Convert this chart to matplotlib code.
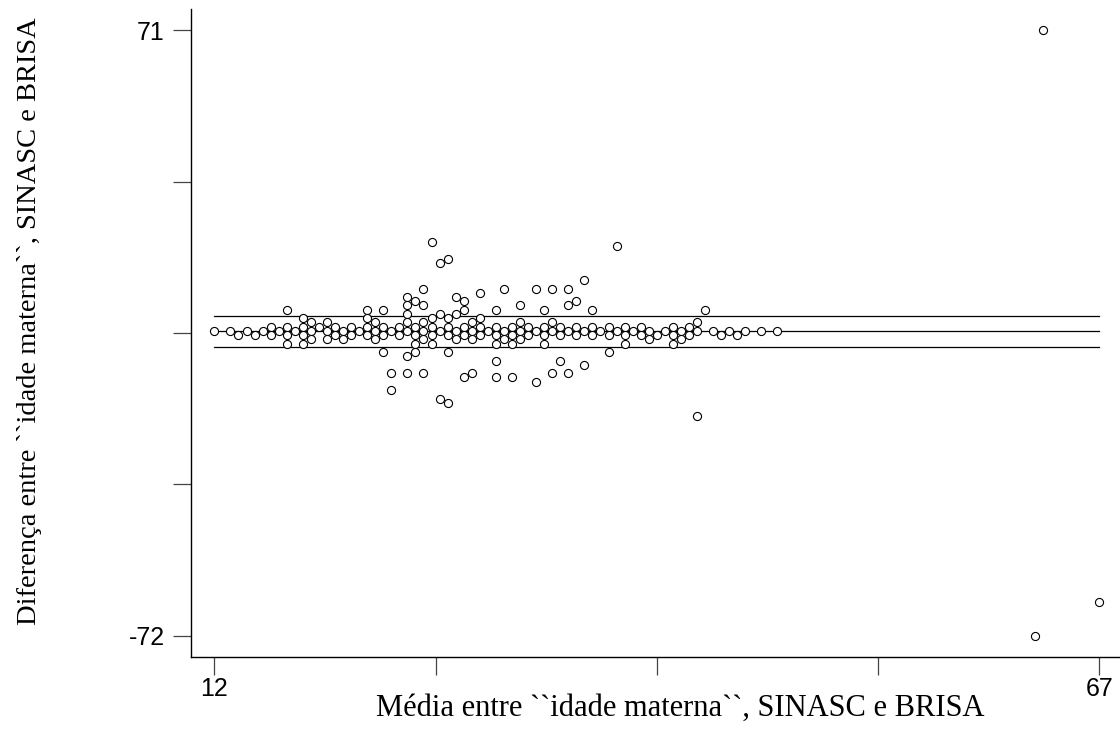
import matplotlib
matplotlib.use("Agg")
import matplotlib.pyplot as plt
import numpy as np

# Bland-Altman: idade materna, SINASC vs BRISA
media = [
    12, 13, 13.5, 14, 14.5, 15, 15.5, 15.5, 16,
    16.5, 16.5, 16.5, 16.5, 17, 17.5, 17.5, 17.5, 17.5,
    18, 18, 18, 18.5, 19, 19, 19, 19.5, 19.5, 20, 20, 20.5, 20.5, 21,
    21.5, 21.5, 21.5, 21.5, 22, 22, 22, 22.5, 22.5, 22.5, 22.5,
    23, 23, 23, 23.5, 23.5,
    24, 24, 24, 24, 24, 24, 24,
    24.5, 24.5, 24.5, 24.5, 24.5,
    25, 25, 25, 25, 25, 25,
    25.5, 25.5, 25.5, 25.5, 25.5,
    26, 26, 26, 26,
    26.5, 26.5, 26.5, 26.5, 26.5, 26.5,
    27, 27, 27, 27,
    27.5, 27.5, 27.5, 27.5, 27.5,
    28, 28, 28, 28,
    28.5, 28.5, 28.5, 28.5, 29,
    29.5, 29.5, 29.5, 29.5, 29.5, 29.5,
    30, 30, 30, 30.5, 30.5, 30.5, 30.5,
    31, 31, 31, 31, 31.5, 31.5,
    32, 32, 32, 32.5, 32.5, 32.5, 32.5,
    33, 33, 33, 33, 33.5, 33.5, 33.5,
    34, 34, 34, 34, 34.5, 34.5, 34.5,
    35, 35, 35, 35.5, 35.5, 35.5, 36,
    36.5, 36.5, 36.5, 37, 37, 37.5, 37.5, 37.5,
    38, 38.5, 38.5, 39, 39, 39.5, 40,
    40.5, 40.5, 40.5, 41, 41, 41.5, 41.5,
    42, 42, 42, 42.5, 43, 43.5, 44, 44.5, 45, 46, 47,
    63, 63.5, 67,
]
diferenca = [
    0, 0, -1, 0, -1, 0, 1, -1, 0,
    5, 1, -1, -3, 0, 3, 1, -1, -3,
    2, 0, -2, 1, 2, 0, -2, 1, -1, 0, -2, 1, -1, 0,
    5, 3, 1, -1, 2, 0, -2, 5, 1, -1, -5,
    0, -10, -14, 1, -1,
    8, 6, 4, 2, 0, -6, -10,
    7, 1, -1, -3, -5,
    10, 6, 2, 0, -2, -10,
    21, 3, 1, -1, -3,
    16, 4, 0, -16,
    17, 3, 1, -1, -5, -17,
    8, 4, 0, -2,
    7, 5, 1, -1, -11,
    2, 0, -2, -10,
    9, 3, 1, -1, 0,
    5, 1, -1, -3, -7, -11,
    10, 0, -2, 1, -1, -3, -11,
    6, 2, 0, -2, 1, -1,
    10, 0, -12, 5, 1, -1, -3,
    10, 2, 0, -10, 1, -1, -7,
    10, 6, 0, -10, 7, 1, -1,
    12, 0, -8, 5, 1, -1, 0,
    1, -1, -5, 20, 0, 1, -1, -3,
    0, 1, -1, 0, -2, -1, 0,
    1, -1, -3, 0, -2, 1, -1,
    2, 0, -20, 5, 0, -1, 0, -1, 0, 0, 0,
    -72, 71, -64,
]

# mean difference and limits
media_dif = -0.1
limites = [3.5, -3.7]

x_min, x_max = 12, 67
y_min, y_max = -72, 71

fig = plt.figure(figsize=(11.2, 7.34), dpi=100)
ax = fig.add_axes([191 / 1120, 77.5 / 734, 929 / 1120, 647.5 / 734])

ax.scatter(media, diferenca, s=34, facecolors="white", edgecolors="black",
           linewidths=0.8, zorder=3)

for yv in [limites[0], media_dif, limites[1]]:
    ax.plot([x_min, x_max], [yv, yv], color="black", lw=0.9, zorder=2)

ax.set_xlim(10.55, 68.29)
ax.set_ylim(-76.84, 75.96)

ax.spines["top"].set_visible(False)
ax.spines["right"].set_visible(False)
for s in ["left", "bottom"]:
    ax.spines[s].set_linewidth(1.0)

xt = np.linspace(x_min, x_max, 5)
yt = np.linspace(y_min, y_max, 5)
ax.set_xticks(xt)
ax.set_xticklabels([str(x_min), "", "", "", str(x_max)])
ax.set_yticks(yt)
ax.set_yticklabels([str(y_min), "", "", "", str(y_max)])
ax.tick_params(length=10, width=0.9, color="#444444", labelsize=18)
ax.tick_params(axis="x", length=13, pad=2)
ax.tick_params(axis="y", length=13, pad=6)
for lab in ax.get_xticklabels() + ax.get_yticklabels():
    lab.set_family("Liberation Sans")

fig.text(680 / 1120, 1 - 708 / 734,
         "Média entre ``idade materna``, SINASC e BRISA",
         ha="center", va="center", fontsize=22, family="Liberation Serif")
fig.text(30 / 1120, 1 - 321 / 734,
         "Diferença entre ``idade materna``, SINASC e BRISA",
         ha="center", va="center", rotation=90, fontsize=20.5,
         family="Liberation Serif")

fig.savefig("out.png", dpi=100)
